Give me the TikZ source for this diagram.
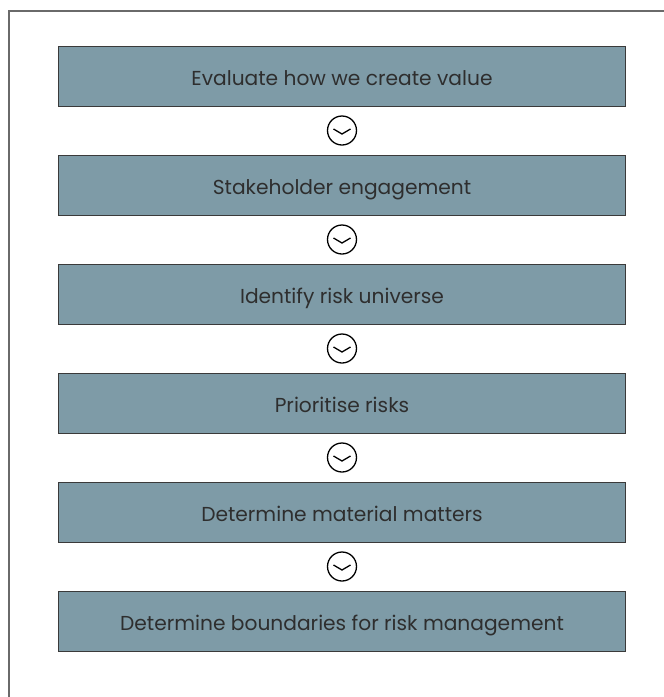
\documentclass[tikz,border=0pt]{standalone}
\usepackage{fontspec}
\setmainfont{Poppins}
\usetikzlibrary{calc}
\definecolor{boxfill}{HTML}{7E9BA7}
\definecolor{boxline}{HTML}{3A3A3A}
\definecolor{frameline}{HTML}{6A6A6A}
\definecolor{textgray}{HTML}{2E2E2E}
\begin{document}
\begin{tikzpicture}[x=1pt,y=-1pt,
  stepbox/.style={draw=boxline, line width=0.8pt, fill=boxfill,
    minimum width=567pt, minimum height=60pt, inner sep=0pt,
    text height=18pt, text depth=0pt, text=textgray,
    font=\fontsize{20.2}{24}\selectfont},
  nextmark/.style={draw=black, line width=1.3pt, circle,
    minimum size=29pt, inner sep=0pt},
  chevron/.style={draw=black, line width=1.3pt, line join=miter}]
\useasboundingbox (0,0) rectangle (664,697);
% outer frame (top and left edges)
\draw[frameline, line width=1.5pt] (9,697) -- (9,11) -- (664,11);
% process steps
\node[stepbox] (s1) at (342,76)  {Evaluate how we create value};
\node[stepbox] (s2) at (342,185) {Stakeholder engagement};
\node[stepbox] (s3) at (342,294) {Identify risk universe};
\node[stepbox] (s4) at (342,403) {Prioritise risks};
\node[stepbox] (s5) at (342,512) {Determine material matters};
\node[stepbox] (s6) at (342,621) {Determine boundaries for risk management};
% round "next" markers between consecutive steps
\foreach \a/\b/\m in {s1/s2/c1, s2/s3/c2, s3/s4/c3, s4/s5/c4, s5/s6/c5} {
  \node[nextmark] (\m) at ($(\a.south)!0.5!(\b.north)$) {};
  \draw[chevron] (\m.center) ++(-8.5,-1.5) -- ++(8.5,5) -- ++(8.5,-5);
}
\end{tikzpicture}
\end{document}
